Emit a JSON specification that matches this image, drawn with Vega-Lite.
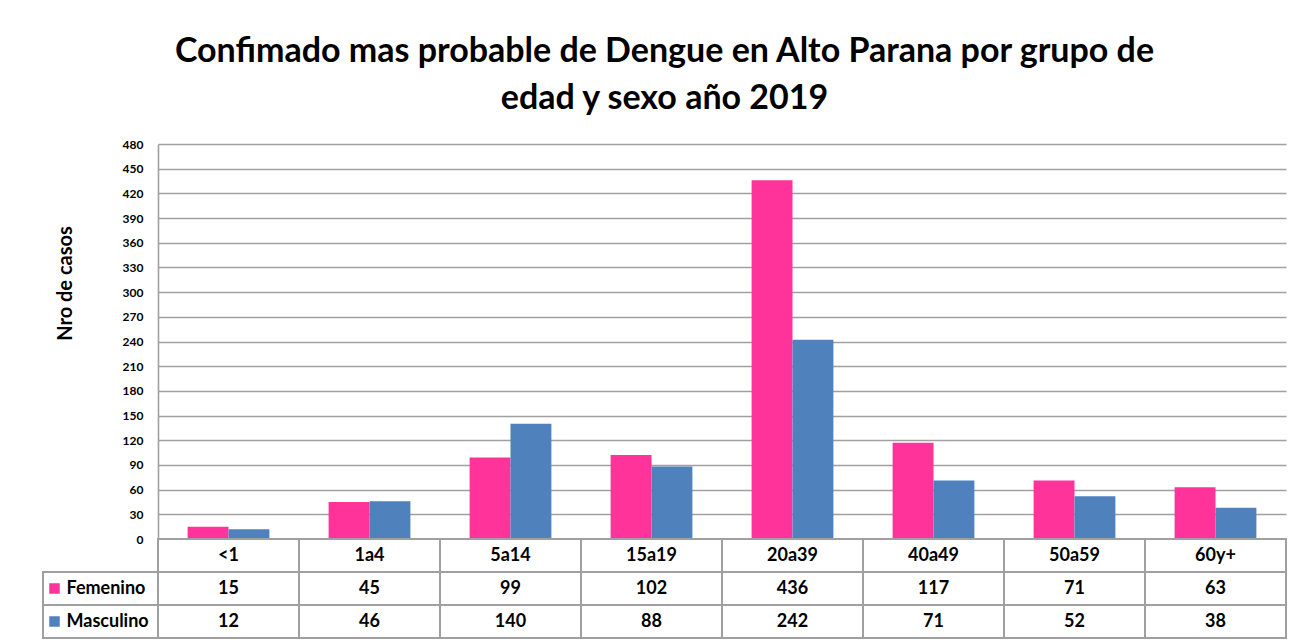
{
  "$schema": "https://vega.github.io/schema/vega-lite/v6.json",
  "padding": {"left": 42, "top": 35, "right": 20, "bottom": 6},
  "background": "white",
  "config": {"view": {"stroke": null}, "font": "Lato"},
  "title": {
    "text": ["Confimado  mas probable de Dengue en Alto Parana por grupo de", "edad y sexo año 2019"],
    "fontSize": 34, "font": "Lato", "fontWeight": "bold", "color": "black",
    "lineHeight": 47, "anchor": "middle", "offset": 22
  },
  "datasets": {
    "casos": [
      {"grupo": "<1", "sexo": "Femenino", "casos": 15},
      {"grupo": "<1", "sexo": "Masculino", "casos": 12},
      {"grupo": "1a4", "sexo": "Femenino", "casos": 45},
      {"grupo": "1a4", "sexo": "Masculino", "casos": 46},
      {"grupo": "5a14", "sexo": "Femenino", "casos": 99},
      {"grupo": "5a14", "sexo": "Masculino", "casos": 140},
      {"grupo": "15a19", "sexo": "Femenino", "casos": 102},
      {"grupo": "15a19", "sexo": "Masculino", "casos": 88},
      {"grupo": "20a39", "sexo": "Femenino", "casos": 436},
      {"grupo": "20a39", "sexo": "Masculino", "casos": 242},
      {"grupo": "40a49", "sexo": "Femenino", "casos": 117},
      {"grupo": "40a49", "sexo": "Masculino", "casos": 71},
      {"grupo": "50a59", "sexo": "Femenino", "casos": 71},
      {"grupo": "50a59", "sexo": "Masculino", "casos": 52},
      {"grupo": "60y+", "sexo": "Femenino", "casos": 63},
      {"grupo": "60y+", "sexo": "Masculino", "casos": 38}
    ]
  },
  "columns": 2,
  "spacing": 0,
  "bounds": "flush",
  "resolve": {"scale": {"x": "independent", "y": "independent"}},
  "concat": [
    {
      "width": 115, "height": 395,
      "data": {"values": [{}]},
      "mark": {"type": "text", "text": ""},
      "encoding": {}
    },
    {
      "width": 1128, "height": 395,
      "data": {"name": "casos"},
      "mark": {"type": "bar"},
      "encoding": {
        "x": {"field": "grupo", "type": "nominal", "sort": ["<1", "1a4", "5a14", "15a19", "20a39", "40a49", "50a59", "60y+"],
              "scale": {"paddingInner": 0.42, "paddingOuter": 0.21}, "axis": null},
        "xOffset": {"field": "sexo", "type": "nominal", "sort": ["Femenino", "Masculino"], "scale": {"paddingInner": 0, "paddingOuter": 0}},
        "y": {"field": "casos", "type": "quantitative", "scale": {"domain": [0, 480], "nice": false},
              "axis": {"values": [0, 30, 60, 90, 120, 150, 180, 210, 240, 270, 300, 330, 360, 390, 420, 450, 480],
                       "grid": true, "gridColor": "#A0A0A0", "gridWidth": 1.6,
                       "domainColor": "#A0A0A0", "domainWidth": 1.6, "ticks": false, "labelPadding": 15,
                       "labelFontSize": 12, "labelFontWeight": "bold", "labelColor": "black",
                       "title": "Nro de casos", "titleFontSize": 20, "titleFontWeight": "bold", "titleColor": "black",
                       "titleX": -93, "titleY": 139, "titleAngle": -90, "titleBaseline": "middle", "titleAlign": "center"}},
        "color": {"field": "sexo", "type": "nominal", "scale": {"domain": ["Femenino", "Masculino"], "range": ["#FF3399", "#4F81BD"]}, "legend": null}
      }
    },
    {
      "width": 115, "height": 99,
      "data": {"name": "casos"},
      "transform": [{"filter": "datum.grupo === '<1'"}],
      "layer": [
        {
          "mark": {"type": "rect", "fill": "white", "stroke": "#A0A0A0", "strokeWidth": 2},
          "encoding": {
            "x": {"datum": "Leyenda", "type": "nominal", "scale": {"paddingInner": 0, "paddingOuter": 0}, "axis": null},
            "y": {"field": "sexo", "type": "nominal", "scale": {"domain": ["Grupo", "Femenino", "Masculino"], "paddingInner": 0, "paddingOuter": 0}, "axis": null}
          }
        },
        {
          "mark": {"type": "point", "shape": "square", "filled": true, "size": 110, "opacity": 1, "xOffset": -46},
          "encoding": {
            "x": {"datum": "Leyenda", "type": "nominal"},
            "y": {"field": "sexo", "type": "nominal"},
            "color": {"field": "sexo", "type": "nominal", "scale": {"domain": ["Femenino", "Masculino"], "range": ["#FF3399", "#4F81BD"]}, "legend": null}
          }
        },
        {
          "mark": {"type": "text", "align": "left", "baseline": "middle", "xOffset": -34, "fontSize": 18, "fontWeight": "bold", "color": "black"},
          "encoding": {
            "x": {"datum": "Leyenda", "type": "nominal"},
            "y": {"field": "sexo", "type": "nominal"},
            "text": {"field": "sexo"}
          }
        }
      ]
    },
    {
      "width": 1128, "height": 99,
      "data": {"name": "casos"},
      "layer": [
        {
          "mark": {"type": "rect", "fill": "white", "stroke": "#A0A0A0", "strokeWidth": 2},
          "encoding": {
            "x": {"field": "grupo", "type": "nominal", "sort": ["<1", "1a4", "5a14", "15a19", "20a39", "40a49", "50a59", "60y+"], "scale": {"paddingInner": 0, "paddingOuter": 0}, "axis": null},
            "y": {"field": "sexo", "type": "nominal", "scale": {"domain": ["Grupo", "Femenino", "Masculino"], "paddingInner": 0, "paddingOuter": 0}, "axis": null}
          }
        },
        {
          "transform": [{"filter": "datum.sexo === 'Femenino'"}],
          "mark": {"type": "rect", "fill": "white", "stroke": "#A0A0A0", "strokeWidth": 2},
          "encoding": {
            "x": {"field": "grupo", "type": "nominal", "sort": ["<1", "1a4", "5a14", "15a19", "20a39", "40a49", "50a59", "60y+"]},
            "y": {"datum": "Grupo", "type": "nominal"}
          }
        },
        {
          "transform": [{"filter": "datum.sexo === 'Femenino'"}],
          "mark": {"type": "text", "baseline": "middle", "fontSize": 18, "fontWeight": "bold", "color": "black"},
          "encoding": {
            "x": {"field": "grupo", "type": "nominal", "sort": ["<1", "1a4", "5a14", "15a19", "20a39", "40a49", "50a59", "60y+"]},
            "y": {"datum": "Grupo", "type": "nominal"},
            "text": {"field": "grupo"}
          }
        },
        {
          "mark": {"type": "text", "baseline": "middle", "fontSize": 18, "fontWeight": "bold", "color": "black"},
          "encoding": {
            "x": {"field": "grupo", "type": "nominal", "sort": ["<1", "1a4", "5a14", "15a19", "20a39", "40a49", "50a59", "60y+"]},
            "y": {"field": "sexo", "type": "nominal"},
            "text": {"field": "casos"}
          }
        }
      ]
    }
  ]
}
